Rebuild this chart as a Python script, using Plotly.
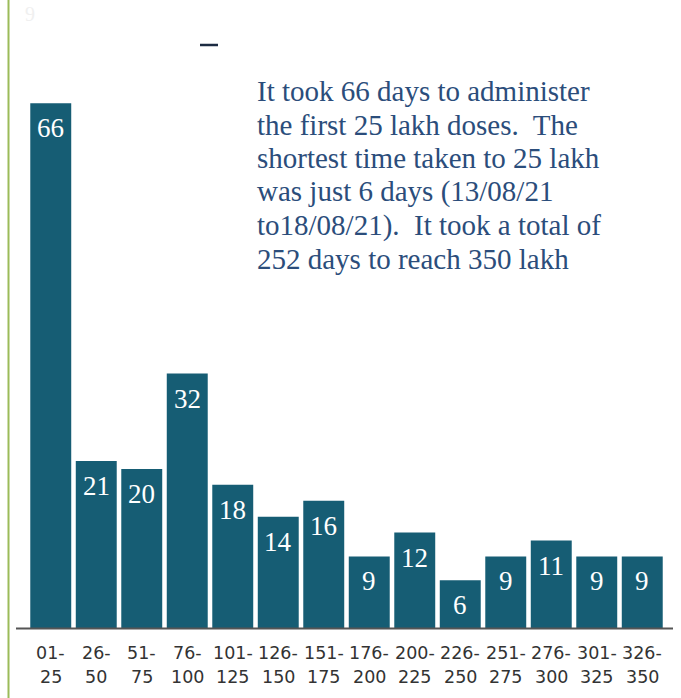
import plotly.graph_objects as go

# ---- data ----
range_start = ["01-", "26-", "51-", "76-", "101-", "126-", "151-", "176-", "200-", "226-", "251-", "276-", "301-", "326-"]
range_end = ["25", "50", "75", "100", "125", "150", "175", "200", "225", "250", "275", "300", "325", "350"]
days = [66, 21, 20, 32, 18, 14, 16, 9, 12, 6, 9, 11, 9, 9]
note_lines = [
    "It took 66 days to administer",
    "the first 25 lakh doses.  The",
    "shortest time taken to 25 lakh",
    "was just 6 days (13/08/21",
    "to18/08/21).  It took a total of",
    "252 days to reach 350 lakh",
]

categories = [f"{a}{b}" for a, b in zip(range_start, range_end)]

W, H = 681, 698
ML, MR, MT, MB = 28, 16, 30, 70
PW = W - ML - MR
PH = H - MT - MB

SERIF = "Liberation Serif"
SANS = "DejaVu Sans"


def px_x(p):
    return (p - ML) / PW


def px_y(p):
    return (H - MB - p) / PH


BAR = "#165d74"

fig = go.Figure()
fig.add_trace(go.Bar(
    x=categories, y=days,
    marker=dict(color=BAR, line=dict(width=0)),
    hoverinfo="skip",
))

annotations = []
# value labels inside bars near top
for c, v in zip(categories, days):
    annotations.append(dict(
        x=c, y=v, xref="x", yref="y", text=str(v), showarrow=False,
        yanchor="middle", yshift=-25,
        font=dict(family=SERIF, size=27, color="white"),
    ))
# two-line tick labels
for c, a, b in zip(categories, range_start, range_end):
    annotations.append(dict(
        x=c, y=px_y(653), xref="x", yref="paper", text=a, showarrow=False,
        yanchor="middle", xanchor="center",
        font=dict(family=SANS, size=17.5, color="#333333"),
    ))
    annotations.append(dict(
        x=c, y=px_y(677), xref="x", yref="paper", text=b, showarrow=False,
        yanchor="middle", xanchor="center",
        font=dict(family=SANS, size=17.5, color="#333333"),
    ))
# note text
for i, line in enumerate(note_lines):
    annotations.append(dict(
        x=px_x(255), y=px_y(91 + 33.6 * i), xref="paper", yref="paper",
        text=line, showarrow=False, xanchor="left", yanchor="middle",
        font=dict(family=SERIF, size=29, color="#2b4d7b"),
    ))
# faint ghost mark top-left
annotations.append(dict(
    x=px_x(30), y=px_y(14), xref="paper", yref="paper", text="9", showarrow=False,
    xanchor="center", yanchor="middle",
    font=dict(family=SERIF, size=20, color="#f0f0f0"),
))

shapes = [
    # baseline axis
    dict(type="line", xref="paper", yref="paper",
         x0=px_x(16), x1=px_x(673), y0=px_y(628.5), y1=px_y(628.5),
         line=dict(color="#555555", width=2)),
    # green left border
    dict(type="line", xref="paper", yref="paper",
         x0=px_x(8.5), x1=px_x(8.5), y0=px_y(0), y1=px_y(698),
         line=dict(color="#9bbb59", width=2)),
    # small dash at top
    dict(type="line", xref="paper", yref="paper",
         x0=px_x(200), x1=px_x(218), y0=px_y(45), y1=px_y(45),
         line=dict(color="#1c2b42", width=2.5)),
]

fig.update_layout(
    width=W, height=H,
    margin=dict(l=ML, r=MR, t=MT, b=MB, pad=0),
    paper_bgcolor="white", plot_bgcolor="white",
    bargap=0.1,
    showlegend=False,
    font=dict(family=SANS),
    xaxis=dict(showticklabels=False, showgrid=False, zeroline=False, showline=False,
               ticks="", range=[-0.5, len(categories) - 0.5]),
    yaxis=dict(visible=False, range=[0, 75.2], showgrid=False, zeroline=False),
    annotations=annotations,
    shapes=shapes,
)

fig.write_html(
    "out.html",
    config={"displayModeBar": False},
    post_script="document.body.style.margin='0';document.body.style.padding='0';document.body.style.overflow='hidden';",
)
